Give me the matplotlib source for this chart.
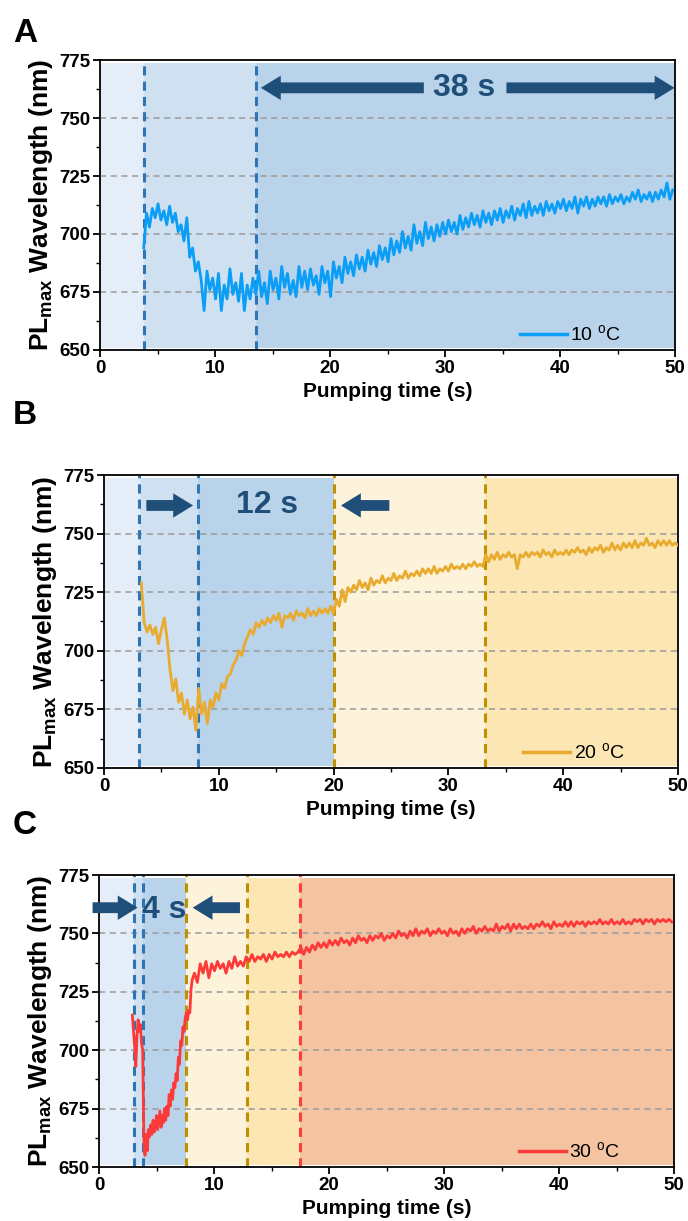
import numpy as np
import matplotlib
matplotlib.use("Agg")
import matplotlib.pyplot as plt
from matplotlib.patches import FancyArrowPatch

plt.rcParams['font.family'] = ['Liberation Sans', 'DejaVu Sans']
plt.rcParams['mathtext.fontset'] = 'custom'
plt.rcParams['mathtext.rm'] = 'Liberation Sans'
plt.rcParams['mathtext.bf'] = 'Liberation Sans:bold'

# ---------------- data ----------------
# Panel A (10 C): sampled every 0.25 s from 3.8 s
a_t0, a_dt = 3.8, 0.25
a_y = [694, 709, 703, 711, 707, 713, 706, 710, 704, 712, 705, 709, 701, 704, 697, 707, 690, 694, 684, 688,
       680, 667, 684, 676, 681, 672, 683, 667, 678, 672, 685, 674, 679, 671, 683, 667, 678, 672, 681, 674,
       684, 673, 679, 670, 684, 676, 681, 672, 686, 677, 683, 674, 680, 673, 686, 677, 684, 676, 685, 678,
       682, 674, 686, 679, 684, 673, 688, 681, 686, 679, 690, 683, 688, 682, 691, 685, 690, 684, 693, 687,
       692, 686, 695, 689, 694, 688, 698, 691, 697, 692, 701, 694, 699, 693, 704, 696, 701, 695, 705, 698,
       703, 697, 704, 699, 705, 700, 706, 701, 705, 700, 708, 702, 707, 703, 709, 704, 708, 703, 710, 705,
       709, 704, 710, 706, 711, 705, 710, 707, 712, 706, 711, 708, 713, 707, 714, 708, 712, 709, 713, 708,
       714, 710, 713, 709, 714, 711, 715, 710, 714, 711, 716, 709, 715, 712, 716, 711, 715, 712, 716, 713,
       716, 712, 717, 713, 716, 714, 717, 713, 716, 714, 718, 715, 719, 714, 717, 715, 718, 714, 718, 715,
       719, 716, 722, 715, 719]

# Panel B (20 C): sampled every 0.25 s from 3.25 s
b_t0, b_dt = 3.25, 0.25
b_y = [729, 712, 708, 711, 707, 710, 703, 709, 714, 705, 692, 683, 688, 678, 682, 673, 679, 671, 676, 666,
       684, 673, 678, 669, 679, 676, 682, 679, 686, 684, 689, 690, 694, 696, 700, 698, 703, 706, 709, 707,
       712, 710, 713, 711, 714, 712, 715, 713, 716, 710, 715, 714, 716, 713, 717, 715, 716, 714, 718, 715,
       717, 715, 718, 716, 718, 716, 719, 716, 722, 719, 726, 721, 727, 725, 728, 726, 730, 727, 729, 726,
       731, 728, 730, 729, 732, 729, 731, 730, 733, 730, 732, 731, 734, 731, 733, 732, 734, 732, 735, 733,
       735, 733, 736, 733, 735, 734, 736, 734, 737, 735, 736, 735, 737, 735, 737, 736, 738, 736, 737, 736,
       741, 738, 741, 739, 742, 739, 741, 740, 742, 740, 741, 735, 741, 740, 742, 740, 742, 741, 742, 740,
       743, 741, 742, 740, 743, 741, 742, 741, 743, 741, 743, 742, 744, 742, 743, 741, 744, 742, 744, 743,
       745, 742, 744, 743, 746, 743, 745, 743, 746, 744, 746, 744, 747, 744, 746, 745, 748, 745, 746, 744,
       747, 745, 747, 745, 747, 745, 746, 745]

# Panel C (30 C): fast part every 0.1 s from 2.9 s, then every 0.25 s from 8.3 s
c1_t0, c1_dt = 2.9, 0.1
c1_y = [715, 708, 702, 693, 706, 713, 708, 711, 703, 700, 662, 655, 664, 657, 666, 663, 668, 664, 670, 665,
        668, 672, 666, 670, 674, 667, 672, 669, 675, 670, 676, 672, 681, 676, 683, 679, 686, 684, 690, 687,
        697, 694, 704, 702, 710, 708, 714, 716, 713, 717, 716, 726, 730]
c2_t0, c2_dt = 8.3, 0.25
c2_y = [733, 729, 737, 733, 738, 731, 737, 734, 738, 735, 737, 733, 738, 735, 740, 736, 738, 736, 740, 738,
        741, 738, 740, 739, 741, 738, 741, 739, 742, 740, 741, 740, 742, 740, 742, 741, 742, 744, 741, 744,
        742, 745, 743, 746, 744, 746, 744, 747, 745, 747, 745, 748, 746, 747, 745, 748, 746, 749, 747, 748,
        746, 749, 747, 749, 748, 750, 747, 749, 748, 750, 748, 751, 749, 750, 748, 751, 749, 752, 749, 751,
        750, 752, 749, 751, 750, 752, 750, 751, 749, 752, 750, 751, 749, 752, 750, 752, 751, 753, 750, 752,
        751, 753, 751, 752, 751, 754, 751, 753, 752, 754, 751, 754, 752, 754, 752, 753, 752, 754, 752, 754,
        753, 755, 753, 754, 752, 755, 753, 754, 753, 755, 753, 755, 753, 755, 754, 755, 753, 755, 754, 755,
        754, 756, 754, 755, 754, 756, 754, 755, 754, 756, 754, 755, 754, 756, 755, 756, 754, 756, 755, 756,
        754, 756, 755, 756, 755, 756, 755]

labels = ['A', 'B', 'C']
legend_labels = ['10 $^{\\mathrm{o}}$C', '20 $^{\\mathrm{o}}$C', '30 $^{\\mathrm{o}}$C']
line_colors = ['#0a9ef7', '#e8ab2e', '#fd3a3a']

# shading regions (start, end, colour) and dashed boundaries (x, colour)
LB1, LB2, LB3 = '#e5eef8', '#cfe0f1', '#b9d3eb'
LY1, LY2, OR = '#fdf3da', '#fce6b3', '#f4c4a2'
BLUE_D, GOLD_D, RED_D = '#2e75b6', '#bf9000', '#ff3b3b'
regions = [
    [(0, 3.8, LB1), (3.8, 13.6, LB2), (13.6, 50, LB3)],
    [(0, 3.1, LB1), (3.1, 8.2, LB2), (8.2, 20.0, LB3), (20.0, 33.2, LY1), (33.2, 50, LY2)],
    [(0, 3.0, LB1), (3.0, 3.85, LB2), (3.85, 7.6, LB3), (7.6, 12.9, LY1), (12.9, 17.5, LY2), (17.5, 50, OR)],
]
dashes = [
    [(3.8, BLUE_D), (13.6, BLUE_D)],
    [(3.05, BLUE_D), (8.2, BLUE_D), (20.0, GOLD_D), (33.2, GOLD_D)],
    [(3.0, BLUE_D), (3.85, BLUE_D), (7.6, GOLD_D), (12.9, GOLD_D), (17.5, RED_D)],
]

ARROW = '#1f4e79'

fig = plt.figure(figsize=(6.88, 12.21), dpi=100)
H = 1221.0
W = 688.0
boxes = [(100, 60, 675, 350), (104, 475, 678, 768), (99, 875, 674, 1167)]
letter_pos = [(13, 18), (13, 400), (13, 810)]

series = [
    (a_t0 + a_dt * np.arange(len(a_y)), np.array(a_y)),
    (b_t0 + b_dt * np.arange(len(b_y)), np.array(b_y)),
    (np.concatenate([c1_t0 + c1_dt * np.arange(len(c1_y)), c2_t0 + c2_dt * np.arange(len(c2_y))]),
     np.array(c1_y + c2_y)),
]

def arrow(ax, x0, x1, y):
    p = FancyArrowPatch((x0, y), (x1, y), arrowstyle='simple,tail_width=0.6,head_width=1.35,head_length=1.1',
                        mutation_scale=13, color=ARROW, lw=0, clip_on=False, zorder=6)
    ax.add_patch(p)

axes = []
for i in range(3):
    l, t, r, b = boxes[i]
    ax = fig.add_axes([l / W, 1 - b / H, (r - l) / W, (b - t) / H])
    axes.append(ax)
    ax.set_xlim(0, 50)
    ax.set_ylim(650, 775)
    for (x0, x1, c) in regions[i]:
        ax.axvspan(x0, x1, ymin=0.006, ymax=0.99, color=c, lw=0, zorder=0)
    for yv in [675, 700, 725, 750]:
        ax.axhline(yv, color='#9a9a9a', lw=1.1, ls=(0, (4, 3)), zorder=1)
    for (xv, c) in dashes[i]:
        ax.axvline(xv, color=c, lw=2.2, ls=(0, (3, 2)), zorder=2)
    tt, yy = series[i]
    ax.plot(tt, yy, color=line_colors[i], lw=2.0, zorder=4, label=legend_labels[i])
    ax.set_xticks([0, 10, 20, 30, 40, 50])
    ax.set_xticks([5, 15, 25, 35, 45], minor=True)
    ax.set_yticks([650, 675, 700, 725, 750, 775])
    ax.set_yticks([662.5, 687.5, 712.5, 737.5, 762.5], minor=True)
    ax.tick_params(axis='both', which='major', direction='out', length=5, width=1.3,
                   labelsize=13.5, pad=2)
    ax.tick_params(axis='both', which='minor', direction='out', length=3, width=1.0)
    for lab in ax.get_xticklabels() + ax.get_yticklabels():
        lab.set_fontweight('bold')
    for s in ax.spines.values():
        s.set_linewidth(1.3)
    ax.set_xlabel('Pumping time (s)', fontsize=15, fontweight='bold', labelpad=4)
    ax.set_ylabel('PL$_{\\mathregular{max}}$ Wavelength (nm)', fontsize=19, fontweight='bold', labelpad=3)
    leg = ax.legend(loc='lower right', bbox_to_anchor=(0.92, -0.01), frameon=False, fontsize=14,
                    handlelength=2.4, borderaxespad=0.0, handletextpad=0.2)
    for h in leg.get_lines():
        h.set_linewidth(2.5)
    fig.text(letter_pos[i][0] / W, 1 - letter_pos[i][1] / H, labels[i], fontsize=24,
             fontweight='bold', va='top', ha='left')

# Panel A annotation
ax = axes[0]
arrow(ax, 28.4, 13.75, 763)
arrow(ax, 35.1, 50.2, 763)
ax.text(31.7, 763, '38 s', fontsize=23, fontweight='bold', color=ARROW, ha='center', va='center', zorder=6)

# Panel B annotation
ax = axes[1]
arrow(ax, 3.45, 8.0, 762)
arrow(ax, 25.1, 20.4, 762)
ax.text(14.2, 762, '12 s', fontsize=23, fontweight='bold', color=ARROW, ha='center', va='center', zorder=6)

# Panel C annotation
ax = axes[2]
arrow(ax, -0.8, 3.6, 761)
arrow(ax, 12.5, 7.9, 761)
ax.text(5.7, 760, '4 s', fontsize=23, fontweight='bold', color=ARROW, ha='center', va='center', zorder=6)

fig.savefig('out.png', dpi=100)
